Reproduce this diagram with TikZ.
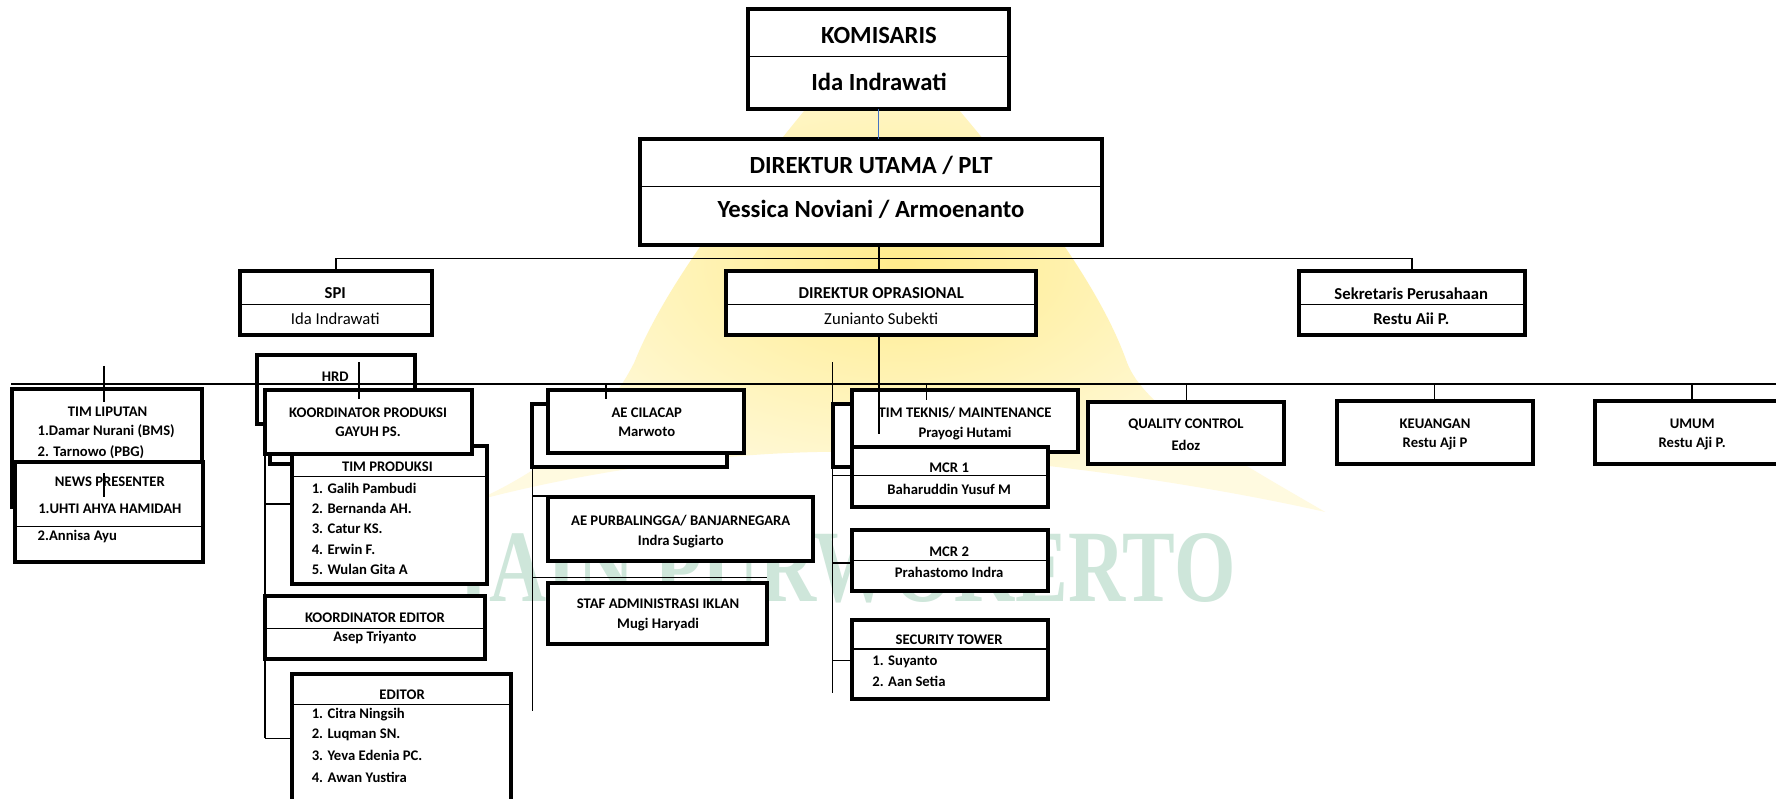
\documentclass[tikz,border=0pt]{standalone}
\usepackage{fontspec}
\setmainfont{Carlito}
\newfontfamily\wmfont{Liberation Serif}
\definecolor{wmgreen}{RGB}{206,230,218}
\definecolor{wmyA}{RGB}{255,236,140}
\definecolor{wmyB}{RGB}{255,250,224}
\definecolor{blueline}{RGB}{68,114,196}
\tikzset{
  bx/.style={draw=black, line width=3pt, fill=white, rectangle, inner sep=0pt, outer sep=0pt},
  dv/.style={line width=0.9pt},
  cn/.style={line width=1.1pt},
  big/.style={font=\fontsize{18.5}{20}\selectfont\bfseries, inner sep=0pt},
  mid/.style={font=\fontsize{12.5}{14}\selectfont\bfseries, inner sep=0pt},
  midr/.style={font=\fontsize{12.5}{14}\selectfont, inner sep=0pt},
  sm/.style={font=\fontsize{11}{13}\selectfont\bfseries, inner sep=0pt},
  sml/.style={sm, anchor=west},
  wm/.style={font=\fontsize{77}{80}\selectfont\bfseries\wmfont, text=wmgreen, inner sep=0pt, xscale=0.77}
}
\newcommand\Bx[5]{\node[bx,minimum width={(#4-#2)*0.8495pt},minimum height={(#5-#3)*0.8495pt}] (#1) at ({(#2+#4)/2},{(#3+#5)/2}) {};}
\newcommand\Dv[2]{\draw[dv] (#1.west |- 0,#2) -- (#1.east |- 0,#2);}
\begin{document}
\begin{tikzpicture}[x=0.8495pt,y=-0.8495pt]
\clip (0,0) rectangle (1568,705);
\fill[white] (0,0) rectangle (1568,705);
% watermark
\shade[inner color=wmyA, outer color=wmyB] (776,15) .. controls (720,90) and (600,220) .. (560,320) .. controls (530,380) and (470,420) .. (420,442) .. controls (560,405) and (700,395) .. (790,400) .. controls (900,405) and (1050,425) .. (1170,452) .. controls (1080,400) and (1010,360) .. (995,320) .. controls (960,220) and (840,90) .. (776,15) -- cycle;
\node[wm] (wmtext) at (748,502) {IAIN PURWOKERTO};
% boxes
\Bx{KOM}{660}{8}{891}{96}
\Bx{DIRUT}{565}{123}{973}{216}
\Bx{SPI}{212}{239}{381}{296}
\Bx{DIROPR}{641}{239}{915}{296}
\Bx{SEKPER}{1147}{239}{1346}{296}
\Bx{HRD}{227}{313}{366}{374}
\Bx{PRODB}{238}{360}{410}{410}
\Bx{TIMPROD}{258}{394}{430}{516}
\Bx{KPROD}{234}{344}{417}{401}
\Bx{KEDIT}{234}{526}{428}{582}
\Bx{EDITOR}{258}{595}{451}{730}
\Bx{TL}{11}{343}{178}{448}
\Bx{NP}{13}{408}{179}{496}
\Bx{AEB}{470}{357}{642}{412}
\Bx{AEC}{484}{344}{657}{400}
\Bx{AEP}{484}{439}{718}{495}
\Bx{STAF}{484}{515}{677}{569}
\Bx{TTB}{735}{357}{900}{412}
\Bx{TT}{752}{344}{952}{399}
\Bx{MCRa}{752}{395}{925}{448}
\Bx{MCRb}{752}{468}{925}{522}
\Bx{SEC}{752}{547}{925}{617}
\Bx{QC}{961}{355}{1134}{410}
\Bx{KEU}{1180}{354}{1353}{410}
\Bx{UMUM}{1408}{354}{1580}{410}
% dividers
\Dv{KOM}{50}\Dv{DIRUT}{165}\Dv{SPI}{269}\Dv{DIROPR}{269}\Dv{SEKPER}{269}
\Dv{TIMPROD}{421}\Dv{KEDIT}{555}\Dv{EDITOR}{622}\Dv{NP}{465}
\Dv{MCRa}{420}\Dv{MCRb}{495}\Dv{SEC}{573}
% texts
\node[big] (t1) at (776,31) {KOMISARIS};
\node[big] (t2) at (776,72) {Ida Indrawati};
\node[big] (t3) at (769,146) {DIREKTUR UTAMA / PLT};
\node[big] (t4) at (769,185) {Yessica Noviani / Armoenanto};
\node[mid] (t5) at (296,259) {SPI};
\node[midr] (t6) at (296,281) {Ida Indrawati};
\node[mid] (t7) at (778,259) {DIREKTUR OPRASIONAL};
\node[midr] (t8) at (778,281) {Zunianto Subekti};
\node[mid] (t9) at (1246,259) {Sekretaris Perusahaan};
\node[mid] (t10) at (1246,281) {Restu Aii P.};
\node[sm] (t11) at (296,333) {HRD};
\node[sm] (t12) at (325,364) {KOORDINATOR PRODUKSI};
\node[sm] (t13) at (325,381) {GAYUH PS.};
\node[sm] (t14) at (342,412) {TIM PRODUKSI};
\node[sml] (t15) at (275,431) {1. Galih Pambudi};
\node[sml] (t16) at (275,449) {2. Bernanda AH.};
\node[sml] (t17) at (275,467) {3. Catur KS.};
\node[sml] (t18) at (275,485) {4. Erwin F.};
\node[sml] (t19) at (275,503) {5. Wulan Gita A};
\node[sm] (t20) at (331,545) {KOORDINATOR EDITOR};
\node[sm] (t21) at (331,563) {Asep Triyanto};
\node[sm] (t22) at (355,613) {EDITOR};
\node[sml] (t23) at (275,631) {1. Citra Ningsih};
\node[sml] (t24) at (275,649) {2. Luqman SN.};
\node[sml] (t25) at (275,667) {3. Yeva Edenia PC.};
\node[sml] (t26) at (275,686) {4. Awan Yustira};
\node[sm] (t27) at (95,364) {TIM LIPUTAN};
\node[sml] (t28) at (33,381) {1.Damar Nurani (BMS)};
\node[sml] (t29) at (33,399) {2. Tarnowo (PBG)};
\node[sm] (t30) at (97,425) {NEWS PRESENTER};
\node[sm] (t31) at (97,449) {1.UHTI AHYA HAMIDAH};
\node[sml] (t32) at (33,474) {2.Annisa Ayu};
\node[sm] (t33) at (571,364) {AE CILACAP};
\node[sm] (t34) at (571,381) {Marwoto};
\node[sm] (t35) at (601,460) {AE PURBALINGGA/ BANJARNEGARA};
\node[sm] (t36) at (601,478) {Indra Sugiarto};
\node[sm] (t37) at (581,533) {STAF ADMINISTRASI IKLAN};
\node[sm] (t38) at (581,551) {Mugi Haryadi};
\node[sm] (t39) at (852,364) {TIM TEKNIS/ MAINTENANCE};
\node[sm] (t40) at (852,383) {Prayogi Hutami};
\node[sm] (t41) at (838,413) {MCR 1};
\node[sm] (t42) at (838,432) {Baharuddin Yusuf M};
\node[sm] (t43) at (838,487) {MCR 2};
\node[sm] (t44) at (838,505) {Prahastomo Indra};
\node[sm] (t45) at (838,565) {SECURITY TOWER};
\node[sml] (t46) at (770,584) {1. Suyanto};
\node[sml] (t47) at (770,602) {2. Aan Setia};
\node[sm] (t48) at (1047,375) {QUALITY CONTROL};
\node[sm] (t49) at (1047,393) {Edoz};
\node[sm] (t50) at (1267,374) {KEUANGAN};
\node[sm] (t51) at (1267,392) {Restu Aji P};
\node[sm] (t52) at (1494,374) {UMUM};
\node[sm] (t53) at (1494,392) {Restu Aji P.};
% connector coordinates
\coordinate (b1) at (776,228);
\coordinate (mL) at (10,339);
\coordinate (mR) at (1568,339);
\coordinate (ttEnd) at (776,383);
\coordinate (tlA) at (92,323); \coordinate (tlB) at (92,355);
\coordinate (npA) at (92,418); \coordinate (npB) at (92,439);
\coordinate (hrA) at (317,320); \coordinate (hrB) at (317,352);
\coordinate (prA) at (234,401); \coordinate (prB) at (234,652);
\coordinate (aeA) at (470,357); \coordinate (aeB) at (470,628);
\coordinate (aeS) at (535,352);
\coordinate (ttA) at (735,320); \coordinate (ttB) at (735,612);
\coordinate (ttS) at (818,353);
% connectors
\draw[blueline, line width=0.8pt] (KOM.south) -- (KOM.south |- DIRUT.north);
\draw[cn] (b1 |- DIRUT.south) -- (b1);
\draw[cn] (SPI.north |- b1) -- (SEKPER.north |- b1);
\draw[cn] (SPI.north |- b1) -- (SPI.north);
\draw[cn] (b1) -- (b1 |- DIROPR.north);
\draw[cn] (SEKPER.north |- b1) -- (SEKPER.north);
\draw[cn] (b1 |- DIROPR.south) -- (ttEnd);
\draw[cn] (mL) -- (mR);
\draw[cn] (tlA) -- (tlB);
\draw[cn] (npA) -- (npB);
\draw[cn] (hrA) -- (hrB);
\draw[cn] (prA) -- (prB);
\draw[cn] (prA |- 0,445) -- (TIMPROD.west |- 0,445);
\draw[cn] (prB) -- (EDITOR.west |- prB);
\draw[cn] (aeA) -- (aeB);
\draw[cn] (aeS |- mL) -- (aeS);
\draw[cn] (aeA |- 0,438) -- (AEP.west |- 0,438);
\draw[cn] (aeA |- 0,510) -- (STAF.east |- 0,510);
\draw[cn] (ttA) -- (ttB);
\draw[cn] (ttS |- mL) -- (ttS);
\draw[dv] (ttA |- 0,420) -- (MCRa.west |- 0,420);
\draw[cn] (ttA |- 0,497) -- (MCRb.west |- 0,497);
\draw[cn] (ttA |- 0,583) -- (SEC.west |- 0,583);
\draw[cn] (QC.north |- mL) -- (QC.north);
\draw[cn] (KEU.north |- mL) -- (KEU.north);
\draw[cn] (UMUM.north |- mL) -- (UMUM.north);
\end{tikzpicture}
\end{document}
